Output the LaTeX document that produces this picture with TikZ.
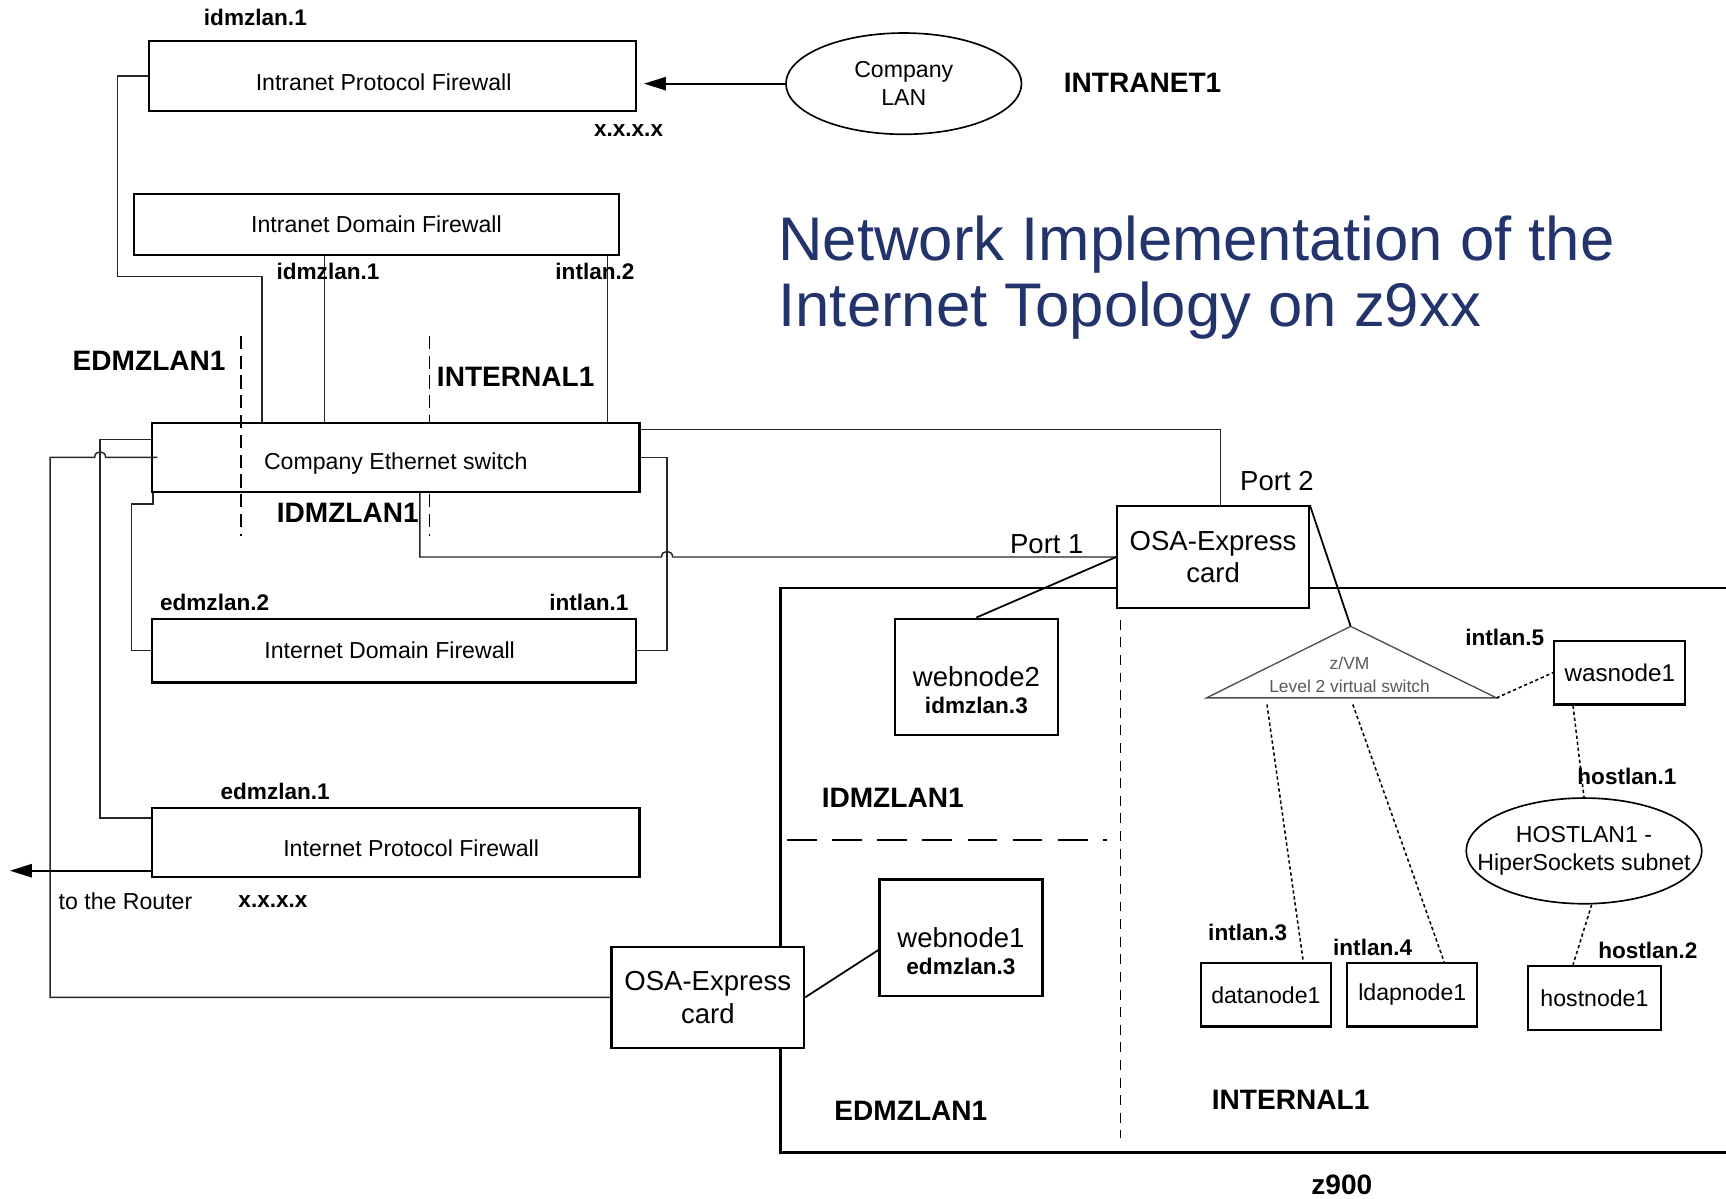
\documentclass[tikz,border=0pt]{standalone}
\usepackage{fontspec}
\setmainfont{Liberation Sans}
\usetikzlibrary{arrows.meta,shapes.geometric}
\definecolor{titleblue}{RGB}{35,51,107}
\tikzset{
    box/.style={draw, line width=2pt, fill=white, inner sep=0pt, align=center, font=\fontsize{21}{25}\selectfont},
    wire/.style={draw=black!85, line width=1.3pt},
    link/.style={draw=black, line width=1.6pt},
    dots/.style={draw=black, line width=1.4pt, dash pattern=on 3pt off 2.5pt},
    sep/.style={draw=black, line width=1.3pt, dash pattern=on 12pt off 6pt},
    lbl/.style={font=\fontsize{20.5}{24}\selectfont\bfseries},
    biglbl/.style={font=\fontsize{25.5}{30}\selectfont\bfseries},
    txt/.style={font=\fontsize{21}{25}\selectfont},
    bigtxt/.style={font=\fontsize{25}{29.6}\selectfont},
    feed/.style={line width=1.8pt, -{Triangle[length=20pt,width=12pt]}},
}
\begin{document}
\begin{tikzpicture}[x=1pt,y=-1pt]
    \useasboundingbox (0,0) rectangle (1568,1089);

    % z900 frame and its partitions
    \draw[line width=2pt] (1568,534) -- (709,534) -- (709,1047) -- (1568,1047);
    \draw[draw=black, line width=1.3pt, dash pattern=on 27pt off 14pt] (715,763) -- (1006,763);
    \draw[draw=black, line width=1.3pt, dash pattern=on 9pt off 7pt] (1018,563) -- (1018,1034);
    \draw[sep] (390,305) -- (390,487);

    % firewalls and switch
    \node[box, minimum width=443pt, minimum height=64pt, text height=27pt, text depth=0pt] (ipfI) at (356.5,69) {\hspace*{-16pt}Intranet Protocol Firewall};
    \node[box, minimum width=440pt, minimum height=56pt] (idf) at (342,204) {Intranet Domain Firewall};
    \node[box, minimum width=443pt, minimum height=63pt, text height=27.3pt, text depth=4.4pt] (sw) at (359.5,415.5) {Company Ethernet switch};
    \node[box, minimum width=440pt, minimum height=58pt] (idfE) at (358,591) {\hspace*{-8pt}Internet Domain Firewall};
    \node[box, minimum width=443pt, minimum height=63pt, text height=24.5pt, text depth=0pt] (ipfE) at (359.5,765.5) {\hspace*{28pt}Internet Protocol Firewall};
    \node[draw, ellipse, line width=1.5pt, fill=white, inner sep=0pt, minimum width=214pt, minimum height=92pt, align=center, txt] (lan) at (821,76) {Company\\LAN};

    % z900 contents
    \node[box, bigtxt, minimum width=174pt, minimum height=92pt] (osaA) at (1102,506) {OSA-Express\\card};
    \node[box, bigtxt, minimum width=175pt, minimum height=92pt] (osaB) at (643,906) {OSA-Express\\card};
    \node[box, minimum width=148pt, minimum height=106pt, font=\fontsize{25}{24}\selectfont] (wn2) at (887,615) {\rule{0pt}{42pt}webnode2\\\textbf{\fontsize{20.5}{24}\selectfont idmzlan.3}};
    \node[box, minimum width=148pt, minimum height=106pt, font=\fontsize{25}{24}\selectfont] (wn1) at (873,852) {\rule{0pt}{42pt}webnode1\\\textbf{\fontsize{20.5}{24}\selectfont edmzlan.3}};
    \coordinate (vsTop) at (1227,569);
    \coordinate (vsL) at (1096,634);
    \coordinate (vsR) at (1359.5,634);
    \draw[draw=black!70, line width=1.2pt] (vsTop) -- (vsR) -- (vsL) -- cycle;
    \node[font=\fontsize{15.8}{20}\selectfont, text=black!65, align=center] (vsText) at (1226,613) {z/VM\\Level 2 virtual switch};
    \node[box, minimum width=119pt, minimum height=58pt, font=\fontsize{22}{26}\selectfont] (wn) at (1471.5,611) {wasnode1};
    \node[draw, ellipse, line width=1.5pt, inner sep=0pt, minimum width=214pt, minimum height=96pt, align=center, txt] (hl) at (1439,773) {\makebox[0pt]{HOSTLAN1 -}\\\makebox[0pt]{HiperSockets subnet}};
    \node[box, minimum width=121pt, minimum height=58.5pt] (hn) at (1448.5,906.75) {hostnode1};
    \node[box, minimum width=118pt, minimum height=57.5pt] (dn) at (1150,903.75) {datanode1};
    \node[box, minimum width=118pt, minimum height=57.5pt] (ln) at (1283,903.75) {ldapnode1};

    % intranet side
    \draw[feed, shorten >=6pt] (lan.west) -- (lan.west -| ipfI.east);
    \draw[wire] (ipfI.west) -- ++(-27,0) |- (238,251) -- (238,0 |- sw.north);
    \draw[wire] (295,0 |- idf.south) -- (295,0 |- sw.north);
    \draw[wire] (552,0 |- idf.south) -- (552,0 |- sw.north);

    % switch to firewalls
    \draw[wire] ([yshift=-16.5pt]sw.north west) -| (91,743) -- (ipfE.west |- 0,743);
    \draw[wire] ([xshift=2pt]sw.south west) -- ++(0,10) -| (119.5,591) -- (idfE.west);
    \draw[wire] (sw.east) -- (606,0 |- sw.east) -- (606,0 |- idfE.east) -- (idfE.east);
    \draw[sep] (219,305) -- (219,487);

    % switch to the OSA-Express cards
    \draw[wire] ([yshift=-7pt]sw.north east) -| ([xshift=7pt]osaA.north);
    \draw[wire] ([xshift=22pt]sw.south) |- (601,506) .. controls (601,499.3) and (611,499.3) .. (611,506) -- (osaA.west);
    \draw[wire] ([xshift=6pt]sw.west) -- (96,415.5) .. controls (96,408.8) and (86,408.8) .. (86,415.5) -- (45.5,415.5) |- (osaB.west);
    \coordinate (router) at (9,791);
    \draw[feed] (ipfE.west |- router) -- (router);

    % inside z900
    \draw[link] (osaA.west) -- (wn2.north);
    \draw[link] (osaA.north east) -- (vsTop);
    \draw[link] (osaB.east) -- ([yshift=-11pt]wn1.west);
    \draw[dots] ([shift={(55,6)}]vsL) -- ([xshift=34pt]dn.north);
    \draw[dots] ([shift={(133,6)}]vsL) -- ([xshift=29pt]ln.north);
    \draw[dots] (vsR) -- (wn.west);
    \draw[dots] ([xshift=-42.5pt]wn.south) -- (hl.north);
    \draw[dots] ([xshift=7pt]hl.south) -- ([xshift=-19.5pt]hn.north);

    % labels
    \node[lbl] (lIdmzTop) at (232,16) {idmzlan.1};
    \node[lbl] (lAddrTop) at (571,119) {x.x.x.x};
    \node[biglbl] (lIntranet) at (1038,75) {INTRANET1};
    \node[lbl] (lIdmzIdf) at (298,247) {idmzlan.1};
    \node[lbl] (lIntlan2) at (540.5,247) {intlan.2};
    \node[biglbl] (lEdmzTop) at (135.5,328) {EDMZLAN1};
    \node[biglbl] (lIntTop) at (468.5,342) {INTERNAL1};
    \node[biglbl] (lIdmzSw) at (316,466) {IDMZLAN1};
    \node[lbl] (lEdmz2) at (195,547) {edmzlan.2};
    \node[lbl] (lIntlan1) at (535,547) {intlan.1};
    \node[lbl] (lEdmz1) at (250,719) {edmzlan.1};
    \node[txt] (lRouter) at (114,819) {to the Router};
    \node[lbl] (lAddrBot) at (248,819) {x.x.x.x};
    \node[bigtxt] (lPort1) at (951,494) {Port 1};
    \node[bigtxt] (lPort2) at (1160,437) {Port 2};
    \node[biglbl] (lIdmzZ) at (811,725) {IDMZLAN1};
    \node[biglbl] (lEdmzZ) at (827.5,1009) {EDMZLAN1};
    \node[biglbl] (lIntZ) at (1172.5,999) {INTERNAL1};
    \node[biglbl, inner sep=0pt] (lZ900) at (1219,1076) {z900};
    \node[lbl] (lIntlan5) at (1367,579) {intlan.5};
    \node[lbl] (lHost1) at (1478,705) {hostlan.1};
    \node[lbl] (lIntlan3) at (1133.5,847) {intlan.3};
    \node[lbl] (lIntlan4) at (1247,861) {intlan.4};
    \node[lbl] (lHost2) at (1497,863) {hostlan.2};

    % title
    \node[anchor=base west, inner sep=0pt, font=\fontsize{56}{60}\selectfont, text=titleblue] (title1) at (707,237) {Network Implementation of the};
    \node[anchor=base west, inner sep=0pt, font=\fontsize{56}{60}\selectfont, text=titleblue] (title2) at (707,297) {Internet Topology on z9xx};
\end{tikzpicture}
\end{document}
